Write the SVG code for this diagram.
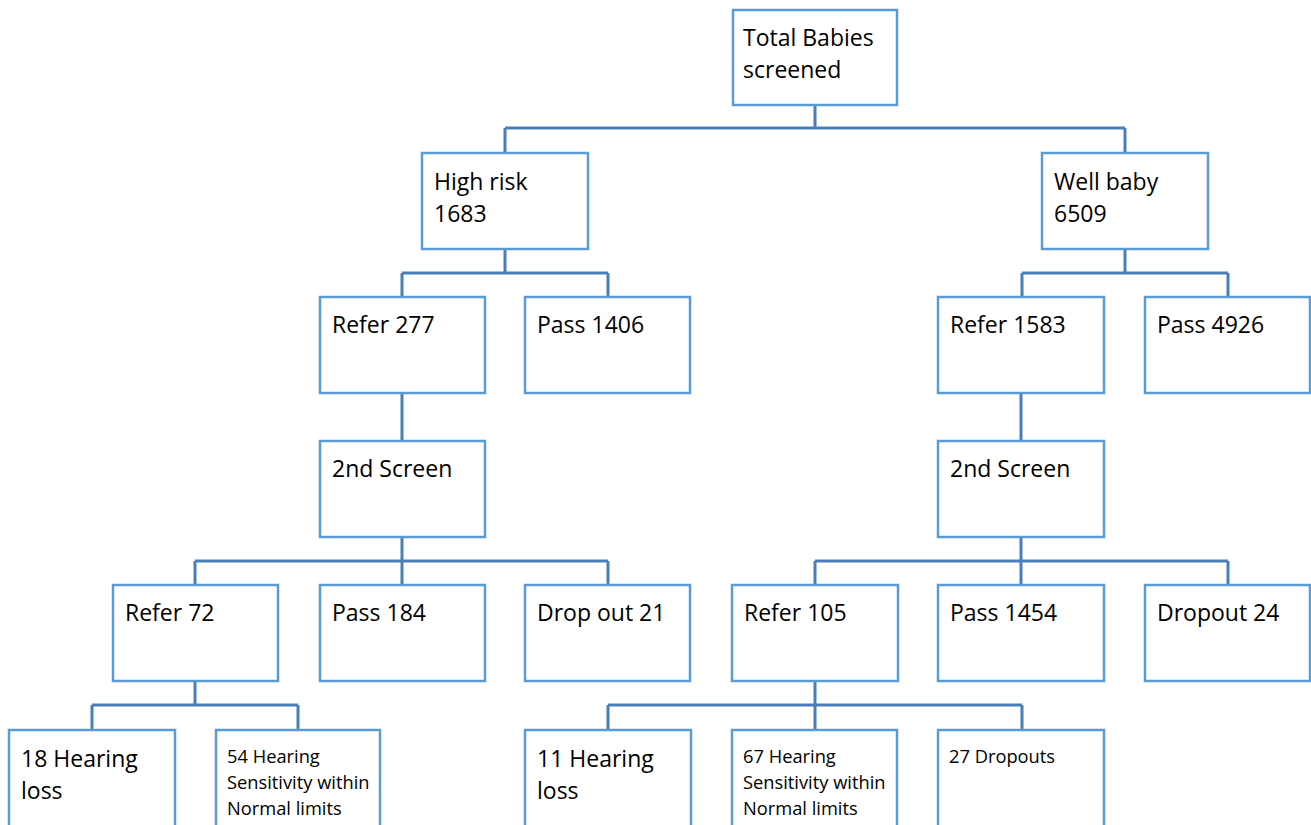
<svg xmlns="http://www.w3.org/2000/svg" width="1311" height="825" viewBox="0 0 1311 825">
<style>
.box{fill:#fff;stroke:#5B9BD5;stroke-width:2.5}
.c{fill:none;stroke:#4A7EBB;stroke-width:3}
.t{font-family:"Open Sans","Liberation Sans",sans-serif;font-size:23px;fill:#000}
.s{font-family:"Open Sans","Liberation Sans",sans-serif;font-size:18.3px;fill:#000}
</style>
<rect width="1311" height="825" fill="#fff"/>
<g id="connectors">
<path class="c" d="M815 105V128M505 128H1125M505 128V153M1125 128V153"/>
<path class="c" d="M505 249V273M402 273H608M402 273V297M608 273V297"/>
<path class="c" d="M1125 249V273M1022 273H1228M1022 273V297M1228 273V297"/>
<path class="c" d="M402 393V441M1021 393V441"/>
<path class="c" d="M402 537V561M195 561H608M195 561V585M402 561V585M608 561V585"/>
<path class="c" d="M1021 537V561M815 561H1228M815 561V585M1021 561V585M1228 561V585"/>
<path class="c" d="M195 681V705M92 705H298M92 705V730M298 705V730"/>
<path class="c" d="M815 681V705M608 705H1022M608 705V730M815 705V730M1022 705V730"/>
</g>
<g id="total"><rect class="box" x="733" y="10" width="164" height="95"/><text class="t" x="743" y="46">Total Babies</text><text class="t" x="743" y="78">screened</text></g>
<g id="highrisk"><rect class="box" x="422" y="153" width="166" height="96"/><text class="t" x="434" y="190">High risk</text><text class="t" x="434" y="222">1683</text></g>
<g id="wellbaby"><rect class="box" x="1042" y="153" width="166" height="96"/><text class="t" x="1054" y="190">Well baby</text><text class="t" x="1054" y="222">6509</text></g>
<g id="refer277"><rect class="box" x="320" y="297" width="165" height="96"/><text class="t" x="332" y="333">Refer 277</text></g>
<g id="pass1406"><rect class="box" x="525" y="297" width="165" height="96"/><text class="t" x="537" y="333">Pass 1406</text></g>
<g id="refer1583"><rect class="box" x="938" y="297" width="166" height="96"/><text class="t" x="950" y="333">Refer 1583</text></g>
<g id="pass4926"><rect class="box" x="1145" y="297" width="165" height="96"/><text class="t" x="1157" y="333">Pass 4926</text></g>
<g id="screen2L"><rect class="box" x="320" y="441" width="165" height="96"/><text class="t" x="332" y="477">2nd Screen</text></g>
<g id="screen2R"><rect class="box" x="938" y="441" width="166" height="96"/><text class="t" x="950" y="477">2nd Screen</text></g>
<g id="refer72"><rect class="box" x="113" y="585" width="165" height="96"/><text class="t" x="125" y="621">Refer 72</text></g>
<g id="pass184"><rect class="box" x="320" y="585" width="165" height="96"/><text class="t" x="332" y="621">Pass 184</text></g>
<g id="drop21"><rect class="box" x="525" y="585" width="165" height="96"/><text class="t" x="537" y="621">Drop out 21</text></g>
<g id="refer105"><rect class="box" x="732" y="585" width="166" height="96"/><text class="t" x="744" y="621">Refer 105</text></g>
<g id="pass1454"><rect class="box" x="938" y="585" width="166" height="96"/><text class="t" x="950" y="621">Pass 1454</text></g>
<g id="dropout24"><rect class="box" x="1145" y="585" width="165" height="96"/><text class="t" x="1157" y="621">Dropout 24</text></g>
<g id="hl18"><rect class="box" x="9" y="730" width="166" height="110"/><text class="t" x="21" y="767">18 Hearing</text><text class="t" x="21" y="799">loss</text></g>
<g id="hs54"><rect class="box" x="216" y="730" width="164" height="110"/><text class="s" x="227" y="763">54 Hearing</text><text class="s" x="227" y="789">Sensitivity within</text><text class="s" x="227" y="815">Normal limits</text></g>
<g id="hl11"><rect class="box" x="525" y="730" width="166" height="110"/><text class="t" x="537" y="767">11 Hearing</text><text class="t" x="537" y="799">loss</text></g>
<g id="hs67"><rect class="box" x="732" y="730" width="165" height="110"/><text class="s" x="743" y="763">67 Hearing</text><text class="s" x="743" y="789">Sensitivity within</text><text class="s" x="743" y="815">Normal limits</text></g>
<g id="drop27"><rect class="box" x="938" y="730" width="166" height="110"/><text class="s" x="949" y="763">27 Dropouts</text></g>
</svg>
